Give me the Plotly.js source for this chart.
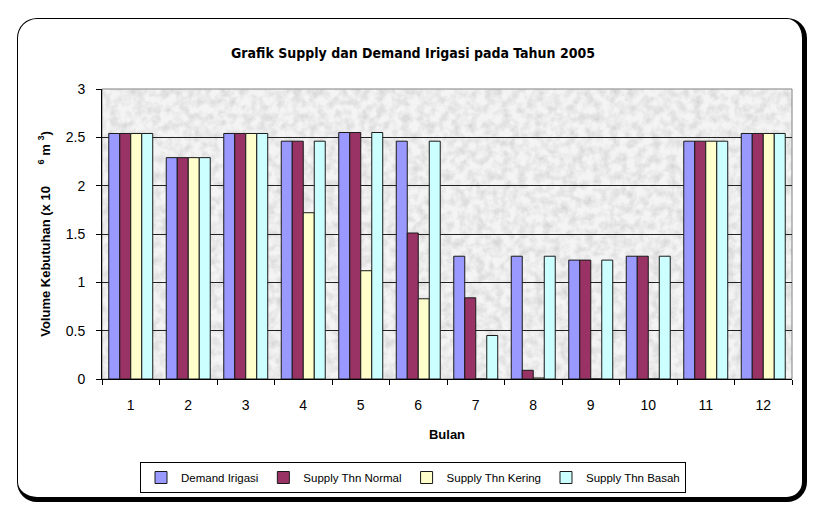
<!DOCTYPE html>
<html>
<head>
<meta charset="utf-8">
<script src="https://cdn.plot.ly/plotly-3.0.1.min.js"></script>
<style>
  html, body { margin: 0; padding: 0; background: #ffffff; }
  #wrap { position: relative; width: 817px; height: 519px; }
  #chart { position: absolute; left: 0; top: 0; width: 817px; height: 519px; }
  #frame {
    position: absolute; left: 17px; top: 18px; width: 790px; height: 484px;
    box-sizing: border-box;
    border-left: 1.5px solid #000; border-top: 1.5px solid #000;
    border-right: 5px solid #000; border-bottom: 5px solid #000;
    border-radius: 20px; pointer-events: none;
  }
</style>
</head>
<body>
<div id="wrap">
  <div id="chart"></div>
  <div id="frame"></div>
</div>
<script>
// Data
const months = ['1','2','3','4','5','6','7','8','9','10','11','12'];
const demandIrigasi   = [2.54, 2.29, 2.54, 2.46, 2.55, 2.46, 1.27, 1.27, 1.23, 1.27, 2.46, 2.54];
const supplyNormal    = [2.54, 2.29, 2.54, 2.46, 2.55, 1.51, 0.84, 0.09, 1.23, 1.27, 2.46, 2.54];
const supplyKering    = [2.54, 2.29, 2.54, 1.72, 1.12, 0.83, 0.00, 0.01, 0.00, 0.00, 2.46, 2.54];
const supplyBasah     = [2.54, 2.29, 2.54, 2.46, 2.55, 2.46, 0.45, 1.27, 1.23, 1.27, 2.46, 2.54];
const seriesNames = ['Demand Irigasi', 'Supply Thn Normal', 'Supply Thn Kering', 'Supply Thn Basah'];
const yTickVals = [0, 0.5, 1, 1.5, 2, 2.5, 3];
const yTickText = ['0', '0.5', '1', '1.5', '2', '2.5', '3'];

const colors = ['#9999FF', '#993366', '#FFFFCC', '#CCFFFF'];
const allSeries = [demandIrigasi, supplyNormal, supplyKering, supplyBasah];

const traces = allSeries.map((vals, i) => ({
  type: 'bar',
  name: seriesNames[i],
  x: months,
  y: vals,
  marker: { color: colors[i], line: { color: '#1a1a1a', width: 1 } },
  hoverinfo: 'x+y+name'
}));

// Speckled gray texture for plot background (SVG turbulence filter)
const texSvg = '<svg xmlns="http://www.w3.org/2000/svg" width="690" height="290">' +
  '<filter id="n"><feTurbulence type="fractalNoise" baseFrequency="0.12" numOctaves="4" seed="7"/>' +
  '<feColorMatrix type="matrix" values="0 0 0 0 0.55  0 0 0 0 0.55  0 0 0 0 0.55  0 0 0 -1.1 0.72"/></filter>' +
  '<rect width="100%" height="100%" fill="#f4f4f4"/>' +
  '<rect width="100%" height="100%" filter="url(#n)"/></svg>';
const texUrl = 'data:image/svg+xml;charset=utf-8,' + encodeURIComponent(texSvg);

const font = 'Liberation Sans, Arial, sans-serif';

const layout = {
  width: 817, height: 519,
  margin: { l: 102, r: 25, t: 89, b: 140 },
  paper_bgcolor: 'rgba(0,0,0,0)',
  plot_bgcolor: '#eeeeee',
  font: { family: font, size: 14, color: '#000' },
  title: {
    text: '<b>Grafik Supply dan Demand Irigasi pada Tahun 2005</b>',
    font: { family: 'Liberation Sans Narrow, DejaVu Sans Condensed, sans-serif', size: 14, color: '#000' },
    x: 413 / 817, xanchor: 'center', xref: 'container',
    y: 1 - 53 / 519, yanchor: 'middle', yref: 'container'
  },
  barmode: 'group',
  bargap: 0.235,
  bargroupgap: 0,
  showlegend: true,
  legend: {
    orientation: 'h',
    x: (413 - 102) / 690, xanchor: 'center',
    y: (379 - 462) / 290, yanchor: 'top',
    bordercolor: '#000', borderwidth: 1, bgcolor: '#fff',
    font: { family: font, size: 11.5, color: '#000' },
    itemwidth: 30, tracegroupgap: 0,
    traceorder: 'normal'
  },
  xaxis: {
    type: 'category',
    tickson: 'boundaries',
    ticks: 'outside', ticklen: 5, tickcolor: '#000',
    ticklabelstandoff: 13,
    showline: true, linecolor: '#000', linewidth: 1,
    showgrid: false,
    tickfont: { family: font, size: 14 },
    title: { text: '<b>Bulan</b>', font: { family: font, size: 13 }, standoff: 18 },
    fixedrange: true
  },
  yaxis: {
    range: [0, 3],
    tickvals: yTickVals, ticktext: yTickText,
    ticks: 'outside', ticklen: 5, tickcolor: '#000',
    ticklabelstandoff: 8,
    showline: true, linecolor: '#000', linewidth: 1,
    showgrid: true, gridcolor: '#222', gridwidth: 1,
    zeroline: false,
    tickfont: { family: font, size: 14 },
    title: { text: '<b>Volume Kebutuhan (x 10      <sup>6</sup> m <sup>3</sup>)</b>', font: { family: font, size: 13 }, standoff: 12 },
    fixedrange: true
  },
  images: [{
    source: texUrl, xref: 'paper', yref: 'paper',
    x: 0, y: 1, sizex: 1, sizey: 1, sizing: 'stretch',
    xanchor: 'left', yanchor: 'top', layer: 'below'
  }],
  shapes: [{
    type: 'rect', xref: 'paper', yref: 'paper', x0: 0, x1: 1, y0: 0, y1: 1,
    line: { color: '#808080', width: 1 }, fillcolor: 'rgba(0,0,0,0)', layer: 'below'
  }]
};

Plotly.newPlot('chart', traces, layout, { displayModeBar: false, staticPlot: true });
</script>
</body>
</html>
